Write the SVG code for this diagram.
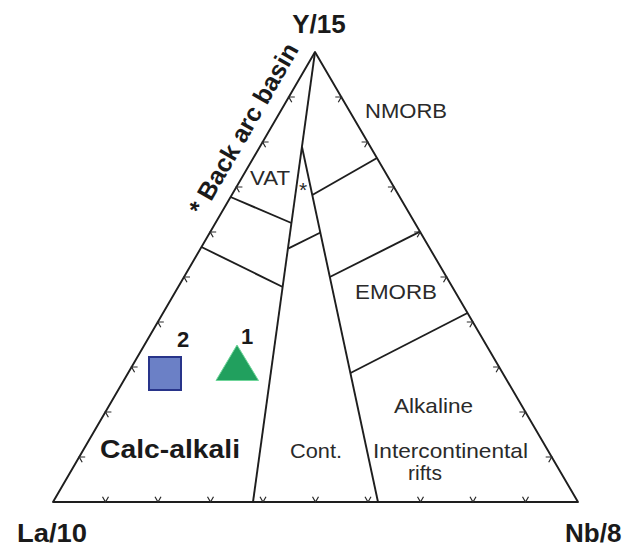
<svg xmlns="http://www.w3.org/2000/svg" xmlns:xlink="http://www.w3.org/1999/xlink" width="640" height="548" viewBox="0 0 640 548">
<defs>
<style>
.ln{fill:none;stroke:#1e1e1e;stroke-width:1.9;stroke-linejoin:round}
.tk{fill:none;stroke:#2a2a2a;stroke-width:1.2}
.lbl{font-family:"Liberation Sans",Arial,sans-serif;font-size:21px;fill:#2a2a2a}
.bold{font-family:"Liberation Sans",Arial,sans-serif;font-weight:bold;fill:#1a1a1a}
</style>
<path id="tb" d="M-3,-5.2 L0,0 L3,-5.2"/>
<path id="tl" d="M6,0 L0,0 L3,5.2"/>
<path id="tr" d="M-6,0 L0,0 L-3,5.2"/>
</defs>
<rect width="640" height="548" fill="#ffffff"/>
<g id="triangle">
<polygon points="315,52 53,502 578,502" fill="#fbf5d1" class="ln"/>
</g>
<g id="connectors">
<line class="ln" x1="315" y1="52" x2="253" y2="502"/>
<line class="ln" x1="302" y1="147" x2="378" y2="502"/>
<line class="ln" x1="312.3" y1="195" x2="377" y2="158"/>
<line class="ln" x1="288.5" y1="248.3" x2="320.5" y2="232.5"/>
<line class="ln" x1="329.8" y1="277" x2="420" y2="231.7"/>
<line class="ln" x1="350.5" y1="373" x2="467.5" y2="313"/>
<line class="ln" x1="230.6" y1="197" x2="291.4" y2="223"/>
<line class="ln" x1="201.5" y1="247" x2="282.8" y2="287"/>
</g>
<g id="ticks" class="tk">
<use xlink:href="#tb" x="105.5" y="502"/><use xlink:href="#tb" x="158" y="502"/><use xlink:href="#tb" x="210.5" y="502"/><use xlink:href="#tb" x="263" y="502"/><use xlink:href="#tb" x="315.5" y="502"/><use xlink:href="#tb" x="368" y="502"/><use xlink:href="#tb" x="420.5" y="502"/><use xlink:href="#tb" x="473" y="502"/><use xlink:href="#tb" x="525.5" y="502"/>
<use xlink:href="#tl" x="79.2" y="457"/><use xlink:href="#tl" x="105.4" y="412"/><use xlink:href="#tl" x="131.6" y="367"/><use xlink:href="#tl" x="157.8" y="322"/><use xlink:href="#tl" x="184" y="277"/><use xlink:href="#tl" x="210.2" y="232"/><use xlink:href="#tl" x="236.4" y="187"/><use xlink:href="#tl" x="262.6" y="142"/><use xlink:href="#tl" x="288.8" y="97"/>
<use xlink:href="#tr" x="551.7" y="457"/><use xlink:href="#tr" x="525.4" y="412"/><use xlink:href="#tr" x="499.1" y="367"/><use xlink:href="#tr" x="472.8" y="322"/><use xlink:href="#tr" x="446.5" y="277"/><use xlink:href="#tr" x="420.2" y="232"/><use xlink:href="#tr" x="393.9" y="187"/><use xlink:href="#tr" x="367.6" y="142"/><use xlink:href="#tr" x="341.3" y="97"/>
</g>
<g id="axis-labels">
<text class="bold" x="319" y="33" font-size="26" text-anchor="middle">Y/15</text>
<text class="bold" x="17" y="542" font-size="26" textLength="70" lengthAdjust="spacingAndGlyphs">La/10</text>
<text class="bold" x="565" y="542" font-size="26">Nb/8</text>
</g>
<g id="field-labels">
<text class="lbl" x="365" y="118" textLength="82" lengthAdjust="spacingAndGlyphs">NMORB</text>
<text class="lbl" x="250" y="185" textLength="40" lengthAdjust="spacingAndGlyphs">VAT</text>
<text class="lbl" x="355" y="299" textLength="82" lengthAdjust="spacingAndGlyphs">EMORB</text>
<text class="lbl" x="394" y="413" textLength="79" lengthAdjust="spacingAndGlyphs">Alkaline</text>
<text class="lbl" x="373" y="458" textLength="155" lengthAdjust="spacingAndGlyphs">Intercontinental</text>
<text class="lbl" x="425" y="480" text-anchor="middle">rifts</text>
<text class="lbl" x="290" y="458" textLength="52" lengthAdjust="spacingAndGlyphs">Cont.</text>
<text class="bold" x="100" y="458" font-size="26" textLength="140" lengthAdjust="spacingAndGlyphs">Calc-alkali</text>
<text class="bold" font-size="25" text-anchor="middle" transform="translate(251,133) rotate(-60)">* Back arc basin</text>
<text class="lbl" x="303" y="197" font-size="9" text-anchor="middle">*</text>
</g>
<g id="sample-2">
<rect x="149" y="357" width="32" height="33" fill="#6b80c6" stroke="#28348a" stroke-width="2"/>
<text class="bold" x="183" y="347" font-size="22" text-anchor="middle">2</text>
</g>
<g id="sample-1">
<polygon points="237,345 216,380.5 258.5,380.5" fill="#21a05e" stroke="#6fd59a" stroke-width="1"/>
<text class="bold" x="247" y="344" font-size="22" text-anchor="middle">1</text>
</g>
</svg>
